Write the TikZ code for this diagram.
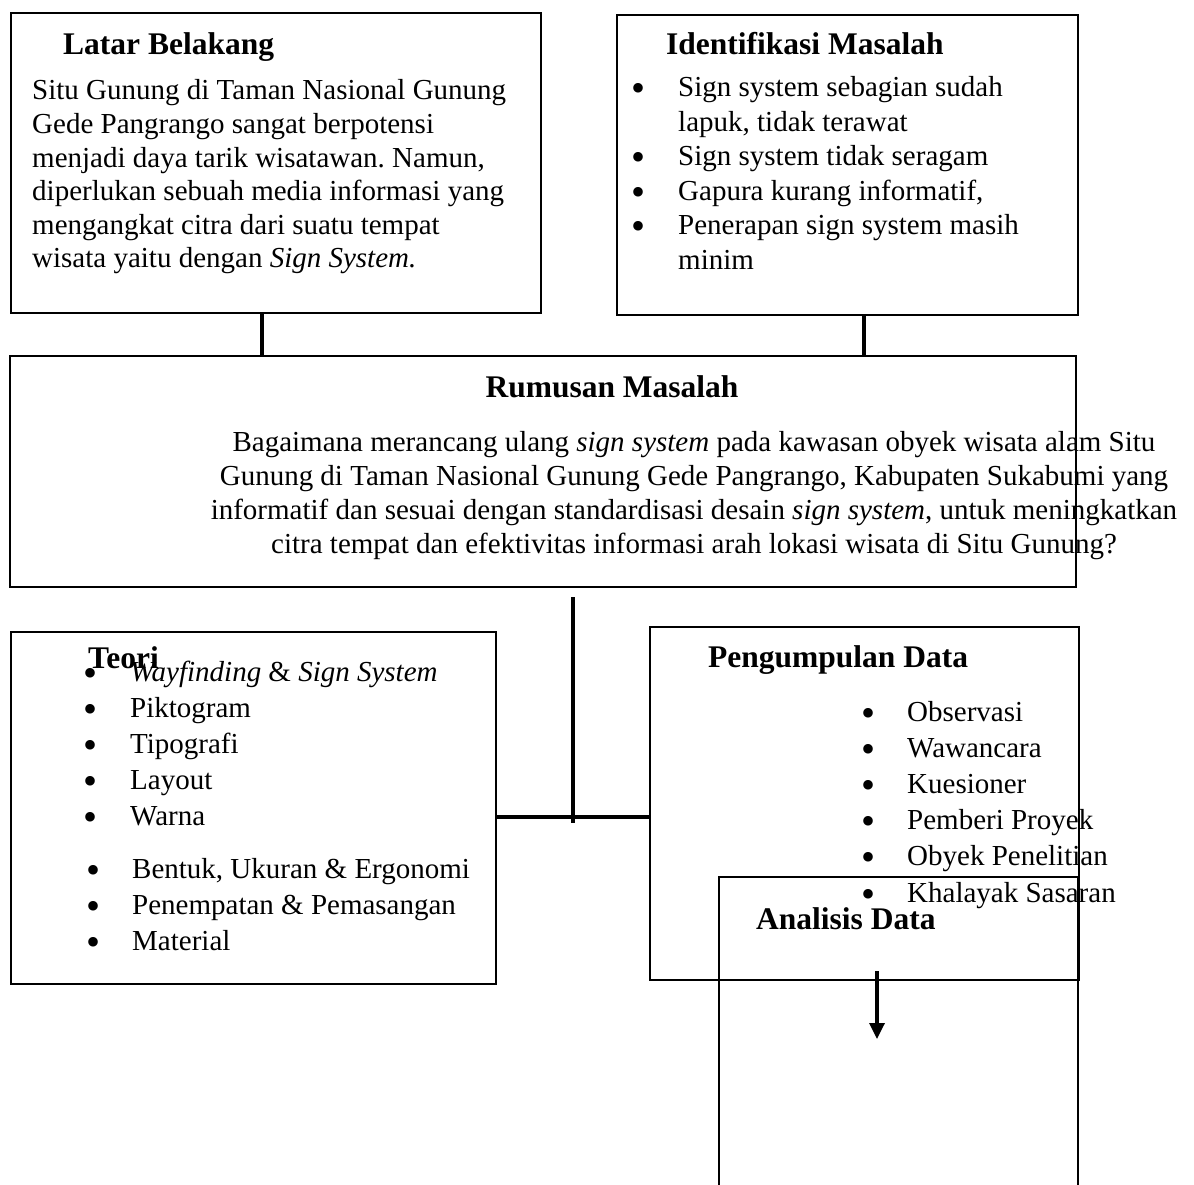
\documentclass[tikz,border=0pt]{standalone}
\usepackage{fontspec}
\setmainfont{Liberation Serif}
\usetikzlibrary{arrows.meta}
\frenchspacing

\tikzset{
  box/.style={draw,line width=2pt,inner sep=0pt,anchor=north west},
  conn/.style={line width=3.3pt},
  heading/.style={font=\fontsize{31.5}{36}\selectfont\bfseries,inner sep=0pt,anchor=base west},
  body/.style={font=\fontsize{29}{#1}\selectfont,inner sep=0pt,anchor=base west},
  body/.default=34
}
\newcommand{\listdot}{\raisebox{-5pt}{\fontsize{40}{40}\selectfont\textbullet}}

\begin{document}
\begin{tikzpicture}[x=1pt,y=-1pt,>=Triangle]
  \useasboundingbox (0,0) rectangle (1194,1185);
  % boxes
  \node[box,minimum width=530,minimum height=300] (latar) at (10,12) {};
  \node[box,minimum width=461,minimum height=300] (ident) at (616,14) {};
  \node[box,minimum width=1066,minimum height=231] (rumusan) at (9,355) {};
  \node[box,minimum width=485,minimum height=352] (teori) at (10,631) {};
  \node[box,minimum width=429,minimum height=353] (kumpul) at (649,626) {};
  \node[box,minimum width=359,minimum height=340] (analisis) at (718,876) {};

  % texts
  \node[heading] (latar-t) at (63,55) {Latar Belakang};
  \node[body=33.6] (latar-b) at (32,100) {\begin{tabular}[t]{@{}l@{}}
    Situ Gunung di Taman Nasional Gunung\\
    Gede Pangrango sangat berpotensi\\
    menjadi daya tarik wisatawan. Namun,\\
    diperlukan sebuah media informasi yang\\
    mengangkat citra dari suatu tempat\\
    wisata yaitu dengan \textit{Sign System.}
  \end{tabular}};

  \node[heading] (ident-t) at (666,55) {Identifikasi Masalah};
  \node[body=34.5] (ident-b) at (631,97) {\begin{tabular}[t]{@{}p{47pt}@{}l@{}}
    \listdot & Sign system sebagian sudah\\
     & lapuk, tidak terawat\\
    \listdot & Sign system tidak seragam\\
    \listdot & Gapura kurang informatif,\\
    \listdot & Penerapan sign system masih\\
     & minim
  \end{tabular}};

  \node[heading,anchor=base] (rumusan-t) at (612,397) {Rumusan Masalah};
  \node[body,anchor=base] (rumusan-b) at (694,451) {\begin{tabular}[t]{@{}c@{}}
    Bagaimana merancang ulang \textit{sign system} pada kawasan obyek wisata alam Situ\\
    Gunung di Taman Nasional Gunung Gede Pangrango, Kabupaten Sukabumi yang\\
    informatif dan sesuai dengan standardisasi desain \textit{sign system}, untuk meningkatkan\\
    citra tempat dan efektivitas informasi arah lokasi wisata di Situ Gunung?
  \end{tabular}};

  \node[heading] (teori-t) at (88,668) {Teori};
  \node[body=36] (teori-a) at (83,681) {\begin{tabular}[t]{@{}p{47pt}@{}l@{}}
    \listdot & \textit{Wayfinding} \& \textit{Sign System}\\
    \listdot & Piktogram\\
    \listdot & Tipografi\\
    \listdot & Layout\\
    \listdot & Warna
  \end{tabular}};
  \node[body=36] (teori-b) at (86,878) {\begin{tabular}[t]{@{}p{46pt}@{}l@{}}
    \listdot & Bentuk, Ukuran \& Ergonomi\\
    \listdot & Penempatan \& Pemasangan\\
    \listdot & Material
  \end{tabular}};

  \node[heading] (kumpul-t) at (708,667) {Pengumpulan Data};
  \node[body=36.2] (kumpul-b) at (861,721) {\begin{tabular}[t]{@{}p{46pt}@{}l@{}}
    \listdot & Observasi\\
    \listdot & Wawancara\\
    \listdot & Kuesioner\\
    \listdot & Pemberi Proyek\\
    \listdot & Obyek Penelitian\\
    \listdot & Khalayak Sasaran
  \end{tabular}};

  \node[heading] (analisis-t) at (756,929) {Analisis Data};

  % connectors
  \coordinate (latar-c) at (262,0);
  \coordinate (ident-c) at (864,0);
  \coordinate (drop) at (573,597);
  \coordinate (junction) at (573,817);
  \coordinate (drop-end) at (573,823);
  \coordinate (arrow-top) at (877,971);
  \coordinate (arrow-tip) at (877,1039);
  \draw[conn] (latar.south -| latar-c) -- (rumusan.north -| latar-c);
  \draw[conn] (ident.south -| ident-c) -- (rumusan.north -| ident-c);
  \draw[conn] (drop) -- (drop-end);
  \draw[conn] (teori.east |- junction) -- (kumpul.west |- junction);
  \draw[conn,-{Triangle[length=16pt,width=15pt]}] (arrow-top) -- (arrow-tip);
\end{tikzpicture}
\end{document}
